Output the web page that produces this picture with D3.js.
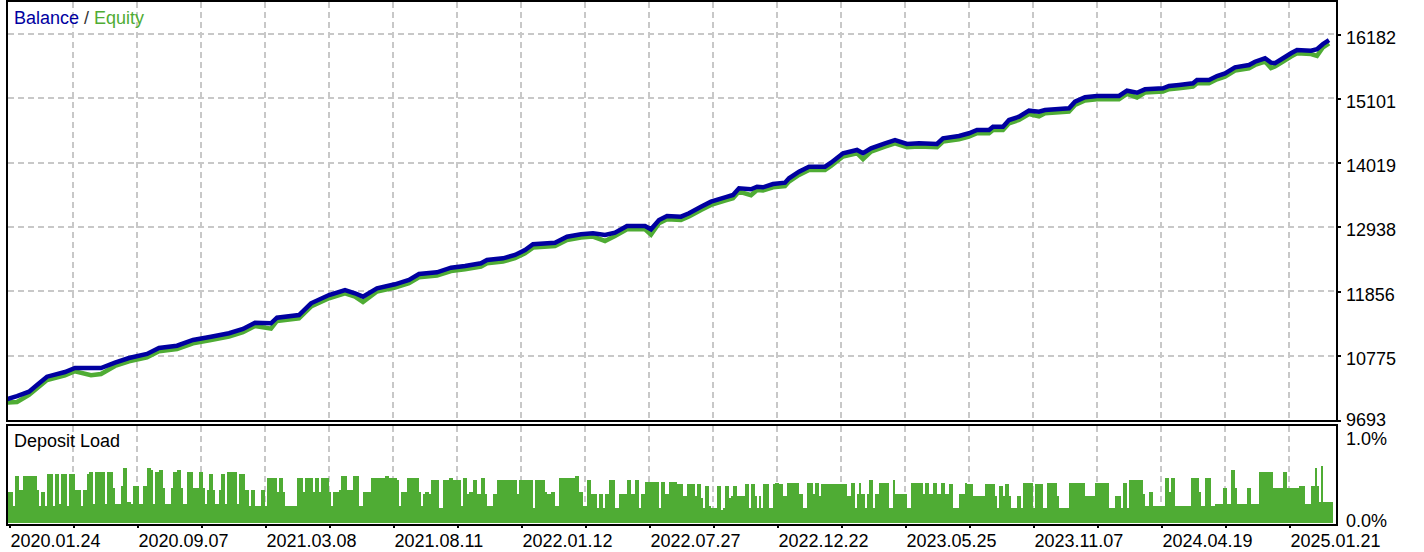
<!DOCTYPE html>
<html><head><meta charset="utf-8">
<script src="https://cdn.jsdelivr.net/npm/d3@7"></script>
<style>
html,body{margin:0;padding:0;background:#fff;}
svg{display:block;}
</style>
</head><body>
<svg id="c" width="1424" height="552"></svg>
<script>
// ---- data ----
const balanceTrades = [0,5,11,15,20,29,34,42,47,54,61,70,76,85,93,102,111,118,124,132,135,146,152,161,169,174,178,185,194,201,206,215,222,229,237,240,248,254,259,263,274,280,287,293,299,304,310,319,322,326,330,337,341,347,352,359,363,366,372,375,378,383,389,391,396,401,409,412,418,425,428,432,439,444,450,456,465,468,476,481,485,491,493,498,501,506,511,516,519,531,534,539,545,556,560,565,569,578,581,586,593,595,601,605,609,614,621,624,629,632,634,638,642,645,652,655,658,661];
const balanceValues = [10041,10096,10169,10281,10421,10500,10567,10567,10567,10656,10735,10803,10903,10942,11038,11093,11151,11223,11329,11319,11413,11458,11655,11794,11878,11823,11766,11907,11974,12047,12147,12176,12253,12282,12327,12383,12411,12467,12551,12647,12674,12774,12815,12832,12803,12842,12954,12954,12899,13055,13122,13111,13168,13279,13363,13437,13475,13588,13571,13615,13605,13660,13682,13756,13867,13951,13951,14019,14177,14232,14177,14261,14345,14400,14333,14345,14333,14429,14467,14513,14568,14568,14624,14624,14736,14792,14893,14876,14904,14933,15044,15118,15140,15140,15229,15195,15252,15269,15308,15325,15353,15409,15409,15476,15521,15622,15661,15716,15774,15700,15690,15774,15858,15913,15901,15925,16014,16081];
const equityValues = [9986,9996,10114,10226,10366,10445,10512,10447,10467,10601,10680,10748,10848,10887,10983,11038,11096,11168,11274,11229,11358,11403,11600,11739,11823,11768,11676,11852,11919,11992,12092,12121,12198,12227,12272,12328,12356,12412,12496,12592,12619,12719,12760,12777,12703,12787,12899,12899,12809,13000,13067,13056,13113,13224,13308,13382,13420,13533,13471,13560,13550,13605,13627,13701,13812,13896,13896,13964,14122,14177,14077,14206,14290,14345,14278,14290,14278,14374,14412,14458,14513,14513,14569,14569,14681,14737,14838,14796,14849,14878,14989,15063,15085,15085,15174,15115,15197,15214,15253,15270,15298,15354,15354,15421,15466,15567,15606,15661,15719,15610,15635,15719,15803,15858,15846,15815,15959,16026];

const loadTrades = [0,3,4,6,8,15,16,17,19,20,23,24,26,27,30,31,34,37,38,40,41,43,44,49,50,53,54,57,58,60,62,63,66,68,70,72,73,74,76,78,79,82,83,85,87,88,90,93,96,98,99,100,101,103,104,106,107,109,110,115,116,119,121,122,124,127,129,130,135,136,138,139,145,148,149,153,154,156,157,161,162,163,166,167,170,173,176,178,182,189,191,195,196,197,200,206,207,208,209,211,212,216,218,221,223,227,228,230,231,233,235,237,239,240,243,245,255,256,263,264,269,270,272,274,276,284,286,288,290,292,295,296,298,299,301,304,306,310,312,314,316,317,319,326,327,329,331,335,338,340,344,345,347,348,349,351,352,355,357,358,359,361,362,363,365,369,371,372,374,375,376,377,378,381,383,384,386,388,390,396,398,400,403,404,406,407,420,422,424,425,426,427,429,430,431,433,434,436,441,443,444,450,452,458,459,461,463,465,467,469,471,473,476,479,480,483,489,494,495,496,498,499,501,502,505,507,508,513,514,518,520,525,526,531,539,544,551,554,557,558,560,561,568,569,571,573,579,581,582,584,592,596,597,599,602,604,608,610,612,614,615,620,622,626,633,638,640,646,649,652,654,655,656,657,658,663];
const loadValues = [0.36,0.20,0.55,0.38,0.55,0.38,0.20,0.36,0.20,0.57,0.20,0.57,0.22,0.57,0.20,0.57,0.38,0.20,0.38,0.57,0.59,0.22,0.59,0.22,0.59,0.41,0.22,0.43,0.64,0.24,0.22,0.43,0.22,0.43,0.64,0.62,0.22,0.59,0.62,0.41,0.22,0.41,0.59,0.62,0.41,0.22,0.59,0.41,0.59,0.41,0.22,0.38,0.57,0.38,0.22,0.38,0.57,0.22,0.59,0.22,0.57,0.38,0.20,0.38,0.20,0.38,0.20,0.52,0.36,0.52,0.36,0.20,0.52,0.36,0.52,0.36,0.52,0.36,0.52,0.36,0.20,0.36,0.38,0.55,0.38,0.55,0.20,0.36,0.52,0.55,0.52,0.50,0.20,0.36,0.52,0.36,0.20,0.34,0.36,0.34,0.50,0.17,0.50,0.52,0.50,0.20,0.52,0.34,0.36,0.50,0.34,0.52,0.34,0.20,0.34,0.50,0.34,0.50,0.17,0.50,0.36,0.34,0.36,0.20,0.52,0.55,0.36,0.20,0.50,0.34,0.17,0.34,0.17,0.34,0.50,0.17,0.34,0.50,0.34,0.50,0.17,0.34,0.48,0.17,0.48,0.34,0.48,0.45,0.31,0.45,0.31,0.45,0.29,0.17,0.43,0.20,0.17,0.43,0.15,0.17,0.43,0.29,0.31,0.43,0.31,0.45,0.17,0.45,0.31,0.17,0.31,0.17,0.45,0.17,0.45,0.47,0.45,0.31,0.47,0.34,0.17,0.47,0.34,0.47,0.31,0.45,0.31,0.47,0.17,0.34,0.47,0.34,0.17,0.34,0.50,0.17,0.34,0.47,0.17,0.50,0.34,0.17,0.47,0.34,0.47,0.34,0.47,0.34,0.47,0.34,0.45,0.17,0.34,0.47,0.45,0.31,0.45,0.31,0.17,0.43,0.31,0.45,0.31,0.17,0.31,0.17,0.47,0.17,0.45,0.17,0.47,0.31,0.17,0.47,0.31,0.47,0.17,0.31,0.17,0.47,0.17,0.50,0.34,0.20,0.36,0.20,0.52,0.36,0.52,0.20,0.52,0.36,0.20,0.52,0.20,0.22,0.41,0.22,0.62,0.41,0.22,0.41,0.22,0.59,0.41,0.59,0.41,0.43,0.22,0.43,0.64,0.43,0.24,0.66,0.24,0.24];

const yTicks = [9693,10775,11856,12938,14019,15101,16182];
const dateTrades = [1,65,129,193,257,321,385,449,513,577,641];
const dateLabels = ["2020.01.24","2020.09.07","2021.03.08","2021.08.11","2022.01.12","2022.07.27","2022.12.22","2023.05.25","2023.11.07","2024.04.19","2025.01.21"];
const loadTicks = [0,1];
const loadTickLabels = ["0.0%","1.0%"];

// ---- layout ----
const FONT = '"Liberation Sans", Arial, sans-serif';
const BLUE = "#0000a0", GREEN = "#4fac34", GRID = "#c8c8c8";
const L = 7, R = 1337, mainTop = 1, mainBot = 421, depTop = 425, depBot = 524.5;
const gridStep = 32;

const svg = d3.select("#c");
const x = d3.scaleLinear().domain([0, 665]).range([L, R]);
const y = d3.scaleLinear().domain([yTicks[0], yTicks[yTicks.length-1]]).range([420, 34]);
const yl = d3.scaleLinear().domain([0, 1]).range([523, 437]);

const gridTrades = d3.range(dateTrades[0] + gridStep, 665, gridStep);
const tickTrades = d3.range(dateTrades[0], 665, gridStep);

// gridlines
const g = svg.append("g").attr("shape-rendering","crispEdges");
g.selectAll("line.hg").data(yTicks.slice(1)).join("line")
  .attr("x1", L+1).attr("x2", R-1).attr("y1", d=>Math.round(y(d))).attr("y2", d=>Math.round(y(d)))
  .attr("stroke", GRID).attr("stroke-width", 2).attr("stroke-dasharray","6,4");
g.selectAll("line.vg").data(gridTrades).join("line")
  .attr("x1", d=>x(d)).attr("x2", d=>x(d)).attr("y1", mainTop+1).attr("y2", mainBot-1)
  .attr("stroke", GRID).attr("stroke-width", 2).attr("stroke-dasharray","6,4");
g.selectAll("line.vg2").data(gridTrades).join("line")
  .attr("x1", d=>x(d)).attr("x2", d=>x(d)).attr("y1", depTop+1).attr("y2", depBot-1)
  .attr("stroke", GRID).attr("stroke-width", 2).attr("stroke-dasharray","6,4");

// deposit load step area
const loadData = loadTrades.map((t,i)=>[t, loadValues[i]]);
const area = d3.area().curve(d3.curveStepAfter)
  .x(d=>x(d[0])).y0(yl(0)).y1(d=>yl(d[1]));
svg.append("path").datum(loadData).attr("d", area)
  .attr("fill", GREEN).attr("shape-rendering","crispEdges");

// clip for main panel
svg.append("clipPath").attr("id","mc").append("rect")
  .attr("x", L+1).attr("y", mainTop+1).attr("width", R-L-2).attr("height", mainBot-mainTop-2);

const line = d3.line().x(d=>x(d[0])).y(d=>y(d[1]));
svg.append("path").datum(balanceTrades.map((t,i)=>[t, equityValues[i]]))
  .attr("d", line).attr("fill","none").attr("stroke", GREEN).attr("stroke-width", 4.5)
  .attr("stroke-linejoin","miter").attr("clip-path","url(#mc)");
svg.append("path").datum(balanceTrades.map((t,i)=>[t, balanceValues[i]]))
  .attr("d", line).attr("fill","none").attr("stroke", BLUE).attr("stroke-width", 4.5)
  .attr("stroke-linejoin","miter").attr("clip-path","url(#mc)");

// frames
svg.append("rect").attr("x", L).attr("y", mainTop).attr("width", R-L).attr("height", mainBot-mainTop)
  .attr("fill","none").attr("stroke","#000").attr("stroke-width",2).attr("shape-rendering","crispEdges");
svg.append("rect").attr("x", L).attr("y", depTop).attr("width", R-L).attr("height", depBot-depTop)
  .attr("fill","none").attr("stroke","#000").attr("stroke-width",2).attr("shape-rendering","crispEdges");

// right value axis
const ya = svg.append("g").attr("transform", `translate(${R+1},0)`)
  .call(d3.axisRight(y).tickValues(yTicks).tickSize(3).tickPadding(5).tickFormat(d3.format("d")));
ya.select(".domain").remove();
ya.attr("font-family", FONT).attr("font-size", 18);
ya.selectAll("line").attr("stroke","#000").attr("stroke-width",2).attr("shape-rendering","crispEdges");
ya.selectAll("text").attr("fill","#000").attr("dy", d => d === yTicks[0] ? 5 : 9);

// deposit load axis
const la = svg.append("g").attr("transform", `translate(${R+1},0)`)
  .call(d3.axisRight(yl).tickValues(loadTicks).tickSize(0).tickPadding(8).tickFormat((d,i)=>loadTickLabels[i]));
la.select(".domain").remove();
la.attr("font-family", FONT).attr("font-size", 18);
la.selectAll("text").attr("fill","#000").attr("dy", d => d === 0 ? 3 : 7);

// bottom date axis
const xa = svg.append("g").attr("transform", `translate(0,${depBot+0.5})`)
  .call(d3.axisBottom(x).tickValues(tickTrades).tickSize(3)
    .tickFormat(d => { const k = dateTrades.indexOf(d); return k >= 0 ? dateLabels[k] : ""; }));
xa.select(".domain").remove();
xa.attr("font-family", FONT).attr("font-size", 18);
xa.selectAll("line").attr("stroke","#000").attr("stroke-width",2).attr("shape-rendering","crispEdges");
xa.selectAll("text").attr("fill","#000").attr("text-anchor","start").attr("x",1).attr("y",21.5).attr("dy",0);

// titles
const t1 = svg.append("text").attr("x",14).attr("y",24).attr("font-family",FONT).attr("font-size",18);
t1.append("tspan").attr("fill",BLUE).text("Balance");
t1.append("tspan").attr("fill","#333").text(" / ");
t1.append("tspan").attr("fill",GREEN).text("Equity");
svg.append("text").attr("x",14).attr("y",447).attr("font-family",FONT).attr("font-size",18)
  .attr("fill","#000").text("Deposit Load");
</script>
</body></html>
